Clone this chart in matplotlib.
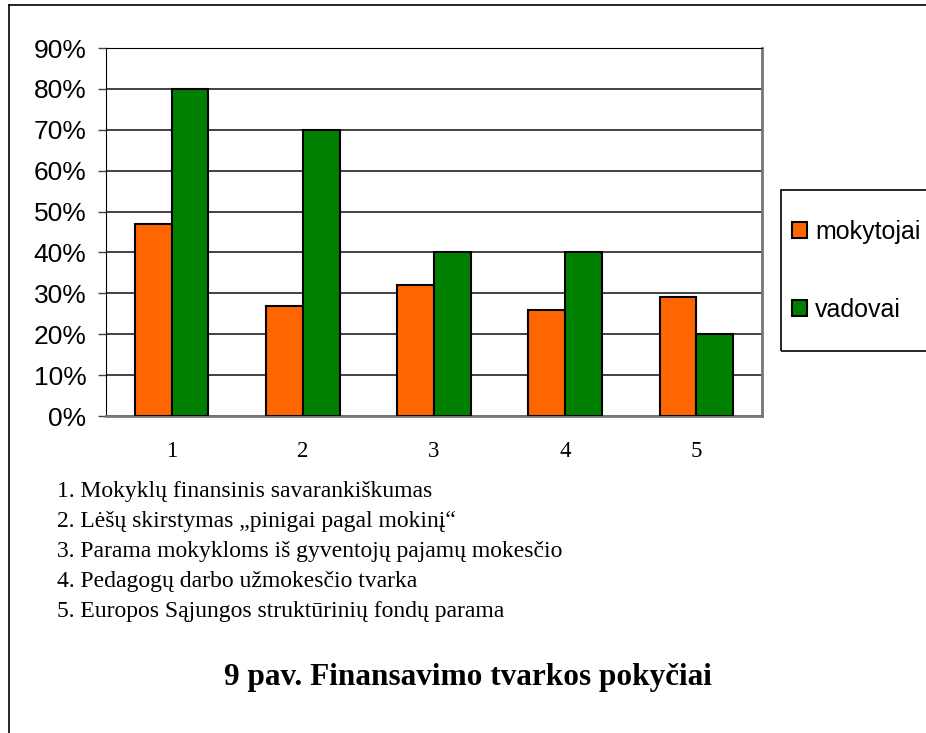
import numpy as np
import matplotlib
matplotlib.use("Agg")
import matplotlib.pyplot as plt
from matplotlib.lines import Line2D
from matplotlib.patches import Rectangle
from matplotlib.ticker import PercentFormatter

categories = ["1", "2", "3", "4", "5"]
mokytojai = [47, 27, 32, 26, 29]
vadovai = [80, 70, 40, 40, 20]
series_names = ["mokytojai", "vadovai"]
descriptions = [
    "1. Mokyklų finansinis savarankiškumas",
    "2. Lėšų skirstymas \u201epinigai pagal mokinį\u201c",
    "3. Parama mokykloms iš gyventojų pajamų mokesčio",
    "4. Pedagogų darbo užmokesčio tvarka",
    "5. Europos Sąjungos struktūrinių fondų parama",
]
caption = "9 pav. Finansavimo tvarkos pokyčiai"

W, H = 926, 733
fig = plt.figure(figsize=(W / 100, H / 100), dpi=100)


def fx(px):
    return px / W


def fy(py):
    return 1 - py / H


ax = fig.add_axes([fx(106), fy(416), fx(762) - fx(106), fy(48) - fy(416)])

x = np.arange(len(categories))
bw = 0.28
ax.bar(x - bw / 2, mokytojai, bw, color="#FF6600", edgecolor="black",
       linewidth=1.5, label=series_names[0], zorder=3)
ax.bar(x + bw / 2, vadovai, bw, color="#008000", edgecolor="black",
       linewidth=1.5, label=series_names[1], zorder=3)

ax.set_xlim(-0.5, len(categories) - 0.5)
ax.set_ylim(0, 90)
ax.set_yticks(np.arange(0, 91, 10))
ax.yaxis.set_major_formatter(PercentFormatter(decimals=0))
ax.set_xticks(x)
ax.set_xticklabels(categories, family="Liberation Serif", fontsize=16.5)
ax.tick_params(axis="x", length=0, pad=18)
ax.tick_params(axis="y", length=6, width=1, color="#444444", labelsize=19, pad=8)
for lbl in ax.get_yticklabels():
    lbl.set_family("Liberation Sans")

ax.grid(axis="y", color="#222222", linewidth=1.2, zorder=0)
ax.spines["left"].set_color("black")
ax.spines["top"].set_color("black")
ax.spines["right"].set_color("#777777")
ax.spines["right"].set_linewidth(2)
ax.spines["bottom"].set_color("#777777")
ax.spines["bottom"].set_linewidth(2)

# legend frame runs off the right edge like in the original
fig.add_artist(Rectangle((fx(781), fy(351)), fx(960) - fx(781), fy(190) - fy(351),
                         transform=fig.transFigure, facecolor="none",
                         edgecolor="black", linewidth=1.2))
leg = fig.legend(loc="upper left", bbox_to_anchor=(fx(792), fy(220)),
                 prop={"family": "Liberation Sans", "size": 18},
                 frameon=False, handlelength=0.58, handleheight=0.58,
                 handletextpad=0.35, labelspacing=2.15,
                 borderpad=0, borderaxespad=0)

for i, line in enumerate(descriptions):
    fig.text(fx(57), fy(491 + i * 30.2), line, family="Liberation Serif",
             fontsize=17, va="center", ha="left")

fig.text(fx(468), fy(677), caption, family="Liberation Serif",
         fontweight="bold", fontsize=22.5, va="center", ha="center")

# page border
fig.add_artist(Line2D([fx(8.5), fx(8.5)], [fy(5), 0], color="black", linewidth=1.2))
fig.add_artist(Line2D([fx(8.5), 1], [fy(5), fy(5)], color="black", linewidth=1.2))

fig.savefig("out.png", dpi=100)
